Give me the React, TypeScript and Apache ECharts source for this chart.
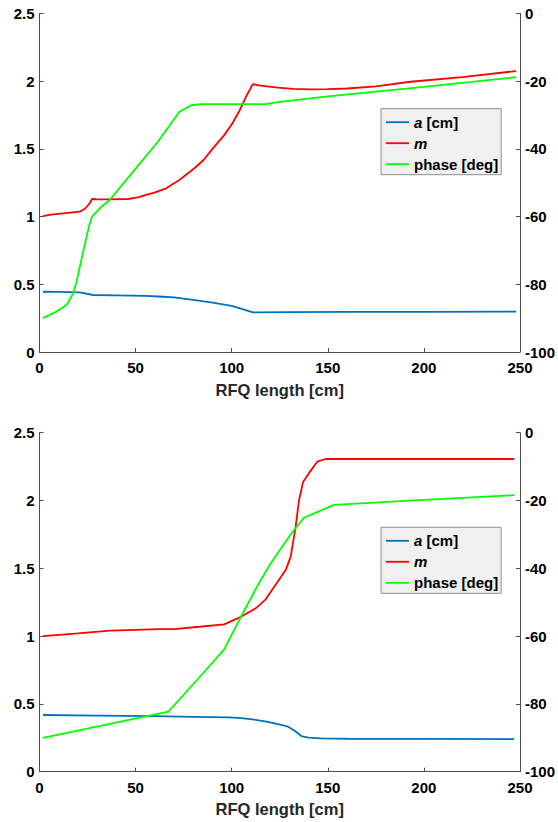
import React, { useEffect, useRef } from "react";
import * as echarts from "echarts";

// Shared axis settings
const xTicks = { min: 0, max: 250, interval: 50 };
const leftTicks = { min: 0, max: 2.5, interval: 0.5 };
const rightTicks = { min: -100, max: 0, interval: 20 };

const seriesNames = ["a [cm]", "m", "phase [deg]"];

// Upper RFQ design: aperture a
const topAX = [1.8, 10, 21, 27.9, 40, 55, 62, 70, 80, 90, 100, 106, 111, 130, 160, 200, 248];
const topA = [0.445, 0.444, 0.441, 0.421, 0.418, 0.414, 0.41, 0.403, 0.385, 0.365, 0.34, 0.315, 0.293, 0.294, 0.296, 0.297, 0.298];

// Upper RFQ design: modulation m
const topMX = [1.8, 6, 12.3, 21, 23.6, 26.2, 27.3, 29.6, 35, 46, 51.2, 55, 59.8, 65.9, 72.8, 80.6, 85.4, 90, 96, 100, 104, 108, 111, 115, 124, 132, 141, 150, 160, 175, 193, 220, 248];
const topM = [1.004, 1.015, 1.024, 1.036, 1.058, 1.1, 1.13, 1.128, 1.127, 1.13, 1.142, 1.158, 1.177, 1.209, 1.27, 1.357, 1.418, 1.5, 1.6, 1.68, 1.78, 1.9, 1.978, 1.968, 1.952, 1.944, 1.94, 1.941, 1.946, 1.962, 1.996, 2.03, 2.075];

// Upper RFQ design: synchronous phase
const topPX = [1.8, 8, 14.1, 17.5, 19.3, 21, 22.8, 24.5, 26, 27.3, 32.2, 36.5, 49.5, 61.6, 72.8, 78.9, 84, 100, 117.7, 124, 150, 200, 248];
const topP = [-90, -88.3, -86.1, -82.7, -79.2, -74.8, -70.2, -65.9, -62.4, -60, -57.1, -55.1, -46.2, -37.9, -29, -27.1, -26.8, -26.8, -26.8, -26.2, -24.5, -21.7, -18.8];

// Lower RFQ design: aperture a
const botAX = [1.8, 30, 60, 80, 98.7, 105, 110.8, 118, 124.1, 129.3, 133, 136.2, 140, 146.5, 160, 200, 247];
const botA = [0.418, 0.414, 0.41, 0.405, 0.401, 0.395, 0.386, 0.37, 0.35, 0.332, 0.3, 0.263, 0.252, 0.246, 0.243, 0.242, 0.24];

// Lower RFQ design: modulation m
const botMX = [1.8, 20, 36.5, 62.4, 70, 83.2, 96.1, 103.9, 112.5, 117.7, 128.1, 130.7, 133.3, 135, 137.2, 140.1, 144.5, 148.8, 200, 247];
const botM = [1.0, 1.02, 1.04, 1.052, 1.052, 1.069, 1.087, 1.136, 1.205, 1.271, 1.487, 1.586, 1.807, 2.0, 2.139, 2.2, 2.286, 2.306, 2.306, 2.306];

// Lower RFQ design: synchronous phase
const botPX = [1.8, 67.1, 86.6, 96.1, 104.8, 114.2, 120, 126.3, 131, 137.6, 145, 153.1, 200, 247];
const botP = [-90, -82.3, -70, -63.9, -54.3, -44.4, -38.8, -33.6, -29.8, -25.1, -23.3, -21.3, -19.8, -18.4];

const colors = ["#0072BD", "#FF0000", "#00FF00"];
const FONT = '"Liberation Sans", Arial, sans-serif';
const AXIS_COLOR = "#4d4d4d";
const LINE_WIDTH = 1.8;

const pairs = (xs: number[], ys: number[]) => xs.map((x, i) => [x, ys[i]]);

const grids = [
  { left: 39.5, top: 13.5, width: 482.5, height: 338.5 },
  { left: 39.5, top: 432.7, width: 482.5, height: 339 },
];

export default function App() {
  const ref = useRef<HTMLDivElement>(null);

  useEffect(() => {
    if (!ref.current) return;
    const chart = echarts.init(ref.current, undefined, { renderer: "svg" });

    const axisLine = { show: true, lineStyle: { color: AXIS_COLOR, width: 1 } };
    const axisTick = { show: true, inside: true, length: 4, lineStyle: { color: AXIS_COLOR } };
    const labelStyle = { color: "#000", fontWeight: "bold" as const, fontSize: 15, fontFamily: FONT };

    const xAxes = [0, 1].map((g) => ({
      type: "value",
      gridIndex: g,
      ...xTicks,
      name: "RFQ length [cm]",
      nameLocation: "middle",
      nameGap: 29,
      nameTextStyle: { color: "#262626", fontWeight: "bold", fontSize: 16.5, fontFamily: FONT },
      axisLine,
      axisTick,
      axisLabel: { ...labelStyle, margin: 8 },
      splitLine: { show: false },
    }));

    const yAxes: any[] = [];
    [0, 1].forEach((g) => {
      yAxes.push({
        type: "value",
        gridIndex: g,
        position: "left",
        ...leftTicks,
        axisLine,
        axisTick,
        axisLabel: { ...labelStyle, margin: 5 },
        splitLine: { show: false },
      });
      yAxes.push({
        type: "value",
        gridIndex: g,
        position: "right",
        ...rightTicks,
        axisLine,
        axisTick,
        axisLabel: { ...labelStyle, margin: 5 },
        splitLine: { show: false },
      });
    });

    const mk = (name: string, color: string, data: number[][], xi: number, yi: number) => ({
      type: "line",
      name,
      data,
      xAxisIndex: xi,
      yAxisIndex: yi,
      symbol: "none",
      lineStyle: { color, width: LINE_WIDTH },
      itemStyle: { color },
    });

    const series = [
      mk(seriesNames[0], colors[0], pairs(topAX, topA), 0, 0),
      mk(seriesNames[1], colors[1], pairs(topMX, topM), 0, 0),
      mk(seriesNames[2], colors[2], pairs(topPX, topP), 0, 1),
      mk(seriesNames[0], colors[0], pairs(botAX, botA), 1, 2),
      mk(seriesNames[1], colors[1], pairs(botMX, botM), 1, 2),
      mk(seriesNames[2], colors[2], pairs(botPX, botP), 1, 3),
    ];

    // Thin bar used as the legend key, so each entry shows a plain line sample
    const lineKey = "path://M0 0H230V18H0Z";

    const legendFor = (top: number) => ({
      data: seriesNames,
      orient: "vertical",
      left: 381,
      top,
      padding: [6, 3, 3, 5],
      icon: lineKey,
      itemWidth: 23,
      itemHeight: 14,
      itemGap: 6,
      backgroundColor: "#f0f0f0",
      borderColor: "#8f8f8f",
      borderWidth: 1,
      borderRadius: 0,
      selectedMode: false,
      formatter: (name: string) =>
        name === "a [cm]" ? "{i|a} [cm]" : name === "m" ? "{i|m}" : name,
      textStyle: {
        color: "#000",
        fontWeight: "bold",
        fontSize: 15,
        fontFamily: FONT,
        rich: {
          i: { fontStyle: "italic", fontWeight: "bold", fontSize: 15, fontFamily: FONT, color: "#000" },
        },
      },
    });

    chart.setOption({
      animation: false,
      backgroundColor: "#ffffff",
      grid: grids,
      xAxis: xAxes,
      yAxis: yAxes,
      legend: [legendFor(108.7), legendFor(527.3)],
      series,
    });

    return () => chart.dispose();
  }, []);

  return (
    <div
      ref={ref}
      style={{ position: "absolute", left: 0, top: 0, width: 558, height: 822 }}
    />
  );
}
